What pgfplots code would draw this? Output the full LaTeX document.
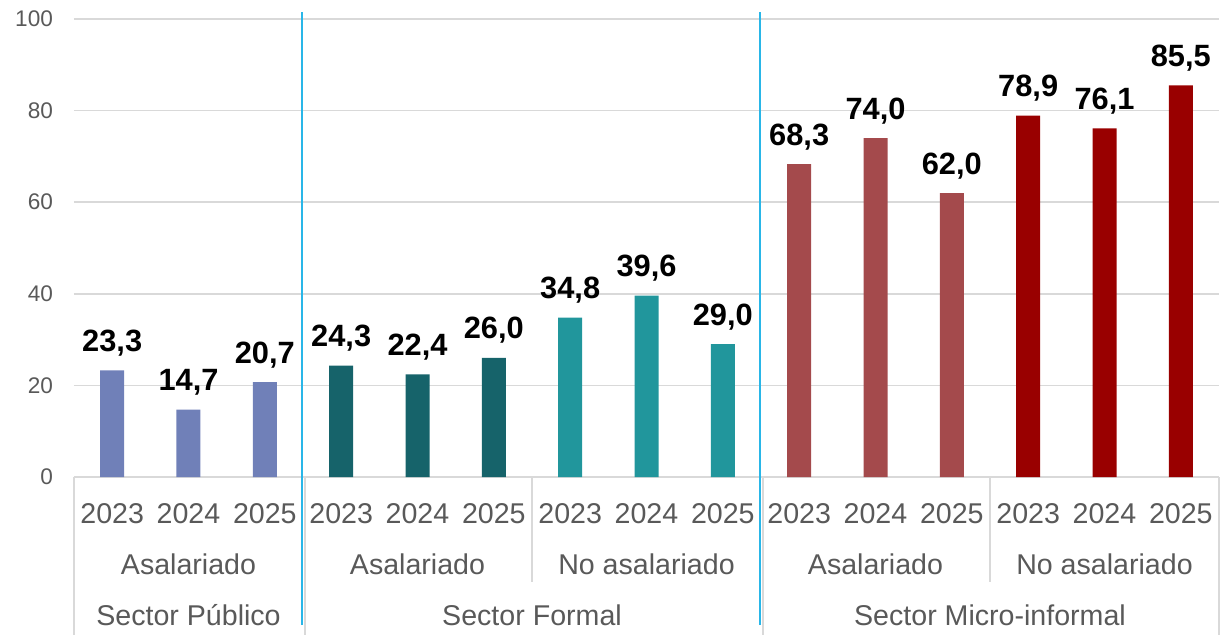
\documentclass[border=0pt]{standalone}
\usepackage{pgfplots}
\pgfplotsset{compat=1.18}
\usepackage{fontspec}
\setmainfont{Liberation Sans}
\definecolor{pub}{HTML}{7080B8}
\definecolor{fas}{HTML}{16636A}
\definecolor{fno}{HTML}{21969C}
\definecolor{mas}{HTML}{A44A4C}
\definecolor{mno}{HTML}{990000}
\definecolor{sep}{HTML}{29B6E8}
\definecolor{gridgray}{HTML}{D9D9D9}
\definecolor{txtgray}{HTML}{595959}
\newcommand{\lblfont}{\fontsize{14.3}{17}\selectfont}
\begin{document}
\begin{tikzpicture}
\begin{axis}[
  scale only axis, width=572.5pt, height=229pt,
  xmin=-0.5, xmax=14.5, ymin=0, ymax=100,
  clip=false,
  axis x line*=bottom, axis y line*=left,
  y axis line style={draw=none},
  x axis line style={draw=gridgray, line width=0.8pt, -},
  ytick={0,20,...,100}, ymajorgrids,
  grid style={draw=gridgray, line width=0.8pt},
  major tick length=0pt,
  yticklabel style={font=\fontsize{11.3}{13}\selectfont, text=txtgray, anchor=east, xshift=-7pt},
  /pgf/number format/assume math mode=true,
  xtick={0,...,14},
  xticklabels={2023,2024,2025,2023,2024,2025,2023,2024,2025,2023,2024,2025,2023,2024,2025},
  xticklabel style={font=\lblfont, text=txtgray, anchor=center, yshift=-18.5pt},
  ybar, bar width=12pt, bar shift=0pt,
  point meta=explicit symbolic,
  nodes near coords,
  nodes near coords style={font=\bfseries\fontsize{15.4}{18}\selectfont, text=black, anchor=base, yshift=9.5pt},
]
\addplot[fill=pub, draw=none] table[meta=l] {
x y l
0 23.3 23,3
1 14.7 14,7
2 20.7 20,7
};
\addplot[fill=fas, draw=none] table[meta=l] {
x y l
3 24.3 24,3
4 22.4 22,4
5 26.0 26,0
};
\addplot[fill=fno, draw=none] table[meta=l] {
x y l
6 34.8 34,8
7 39.6 39,6
8 29.0 29,0
};
\addplot[fill=mas, draw=none] table[meta=l] {
x y l
9 68.3 68,3
10 74.0 74,0
11 62.0 62,0
};
\addplot[fill=mno, draw=none] table[meta=l] {
x y l
12 78.9 78,9
13 76.1 76,1
14 85.5 85,5
};
% separators below the axis
\draw[gridgray, line width=0.8pt] (axis cs:-0.5,0) -- ([yshift=-80pt]axis cs:-0.5,0);
\draw[gridgray, line width=0.8pt] ([xshift=1pt]axis cs:2.5,0) -- ([xshift=1pt,yshift=-80pt]axis cs:2.5,0);
\draw[gridgray, line width=0.8pt] (axis cs:5.5,0) -- ([yshift=-52.5pt]axis cs:5.5,0);
\draw[gridgray, line width=0.8pt] ([xshift=1pt]axis cs:8.5,0) -- ([xshift=1pt,yshift=-80pt]axis cs:8.5,0);
\draw[gridgray, line width=0.8pt] (axis cs:11.5,0) -- ([yshift=-52.5pt]axis cs:11.5,0);
\draw[gridgray, line width=0.8pt] (axis cs:14.5,0) -- ([yshift=-80pt]axis cs:14.5,0);
% blue sector dividers
\draw[sep, line width=1.4pt] ([xshift=-0.5pt,yshift=-74pt]axis cs:2.5,0) -- ([xshift=-0.5pt,yshift=3.5pt]axis cs:2.5,100);
\draw[sep, line width=1.4pt] ([xshift=-0.5pt,yshift=-74pt]axis cs:8.5,0) -- ([xshift=-0.5pt,yshift=3.5pt]axis cs:8.5,100);
% group labels
\node[font=\lblfont, text=txtgray] at ([yshift=-43.5pt]axis cs:1,0) {Asalariado};
\node[font=\lblfont, text=txtgray] at ([yshift=-43.5pt]axis cs:4,0) {Asalariado};
\node[font=\lblfont, text=txtgray] at ([yshift=-43.5pt]axis cs:7,0) {No asalariado};
\node[font=\lblfont, text=txtgray] at ([yshift=-43.5pt]axis cs:10,0) {Asalariado};
\node[font=\lblfont, text=txtgray] at ([yshift=-43.5pt]axis cs:13,0) {No asalariado};
% sector labels
\node[font=\lblfont, text=txtgray] at ([yshift=-69pt]axis cs:1,0) {Sector Público};
\node[font=\lblfont, text=txtgray] at ([yshift=-69pt]axis cs:5.5,0) {Sector Formal};
\node[font=\lblfont, text=txtgray] at ([yshift=-69pt]axis cs:11.5,0) {Sector Micro-informal};
\coordinate (bl) at (rel axis cs:0,0);
\coordinate (tr) at (rel axis cs:1,1);
\end{axis}
\pgfresetboundingbox
\path ([shift={(-37pt,-78.5pt)}]bl) rectangle ([shift={(4.5pt,9.5pt)}]tr);
\end{tikzpicture}
\end{document}
